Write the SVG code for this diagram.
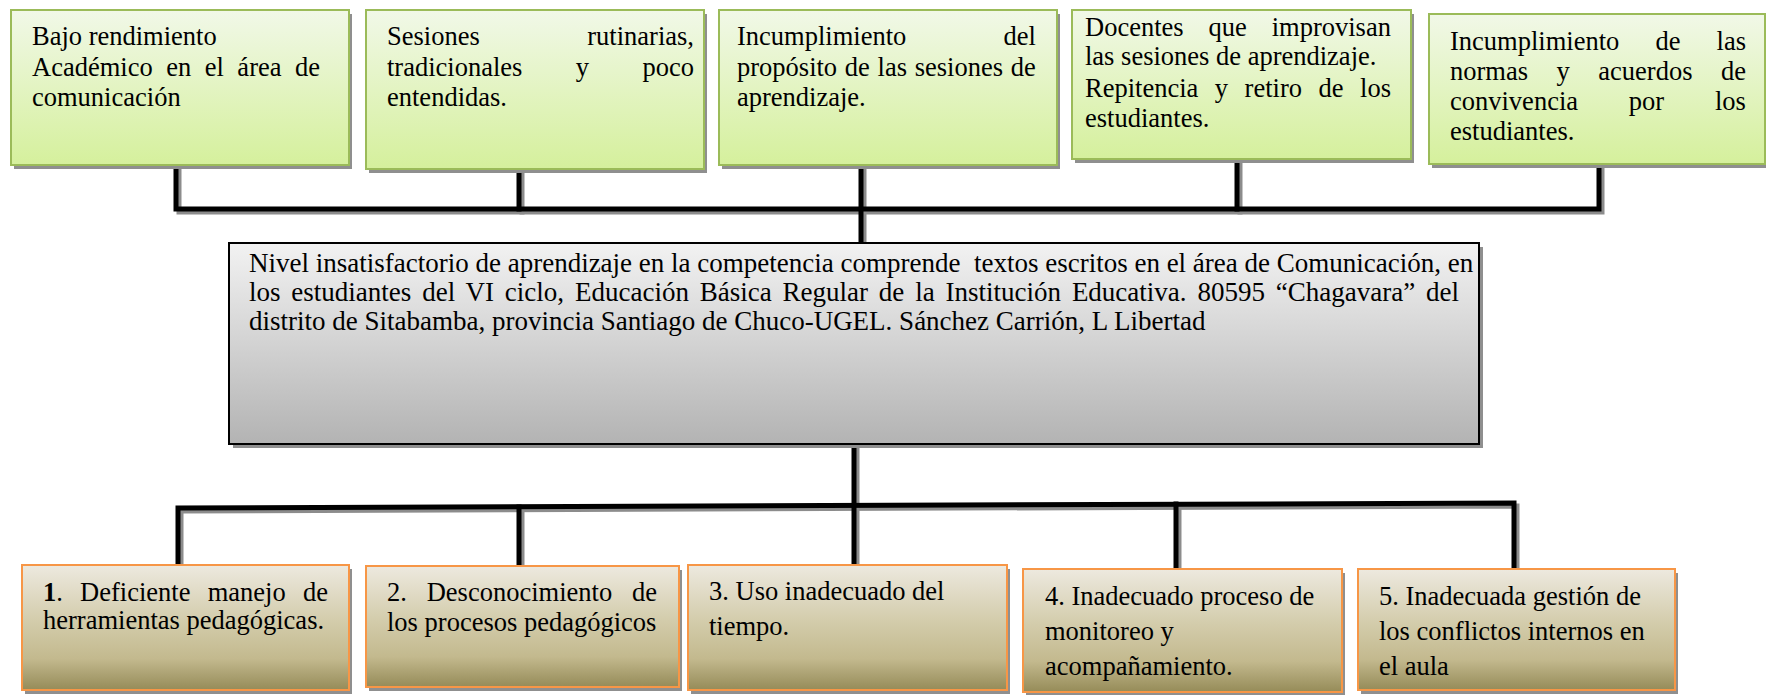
<svg xmlns="http://www.w3.org/2000/svg" width="1766" height="695" viewBox="0 0 1766 695">
<style>
.t{font-family:"Liberation Serif","Times New Roman",serif;font-size:26.5px;fill:#000}
.tc{font-size:27px}
.top{fill:url(#gTop);stroke:#9bbb59;stroke-width:2}
.ctr{fill:url(#gCtr);stroke:#000;stroke-width:2}
.bot{fill:url(#gBot);stroke:#f79646;stroke-width:2}
.sh{fill:#8f8f8f}
.ln{fill:none;stroke:#000;stroke-width:5;stroke-linejoin:miter;stroke-linecap:square}
.lns{fill:none;stroke:#8c8c8c;stroke-width:5;stroke-linejoin:miter;stroke-linecap:square}
</style>
<defs>
<linearGradient id="gTop" x1="0" y1="0" x2="0" y2="1">
<stop offset="0" stop-color="#f1f8e8"/>
<stop offset="1" stop-color="#d5f09c"/>
</linearGradient>
<linearGradient id="gCtr" x1="0" y1="0" x2="0" y2="1">
<stop offset="0" stop-color="#f2f2f2"/>
<stop offset="1" stop-color="#b3b3b3"/>
</linearGradient>
<linearGradient id="gBot" x1="0" y1="0" x2="0" y2="1">
<stop offset="0" stop-color="#ede9df"/>
<stop offset="0.45" stop-color="#d3ccab"/>
<stop offset="0.75" stop-color="#c3b98e"/>
<stop offset="1" stop-color="#958b58"/>
</linearGradient>
</defs>

<g id="connectors">
<g transform="translate(3,3)">
<path class="lns" d="M176 166 V209 H1599 V165"/>
<path class="lns" d="M519 170 V209"/>
<path class="lns" d="M861 166 V242"/>
<path class="lns" d="M1237 160 V209"/>
<path class="lns" d="M178 564 V508 L1514 503 V568"/>
<path class="lns" d="M519 565 V507"/>
<path class="lns" d="M854 445 V564"/>
<path class="lns" d="M1176 568 V504"/>
</g>
<path class="ln" d="M176 166 V209 H1599 V165"/>
<path class="ln" d="M519 170 V209"/>
<path class="ln" d="M861 166 V242"/>
<path class="ln" d="M1237 160 V209"/>
<path class="ln" d="M178 564 V508 L1514 503 V568"/>
<path class="ln" d="M519 565 V507"/>
<path class="ln" d="M854 445 V564"/>
<path class="ln" d="M1176 568 V504"/>
</g>

<g id="effect1">
<rect class="sh" x="14" y="14" width="338" height="155"/>
<rect class="top" x="11" y="10" width="338" height="155"/>
<text class="t" x="32" y="45">Bajo rendimiento</text>
<text class="t" x="32" y="76" style="word-spacing:6.9px">Académico en el área de</text>
<text class="t" x="32" y="106">comunicación</text>
</g>

<g id="effect2">
<rect class="sh" x="369" y="14" width="338" height="159"/>
<rect class="top" x="366" y="10" width="338" height="159"/>
<text class="t" x="387" y="45" style="word-spacing:100.9px">Sesiones rutinarias,</text>
<text class="t" x="387" y="76" style="word-spacing:46.8px">tradicionales y poco</text>
<text class="t" x="387" y="106">entendidas.</text>
</g>

<g id="effect3">
<rect class="sh" x="722" y="14" width="338" height="155"/>
<rect class="top" x="719" y="10" width="338" height="155"/>
<text class="t" x="737" y="45" style="word-spacing:90.7px">Incumplimiento del</text>
<text class="t" x="737" y="76" style="word-spacing:1.1px">propósito de las sesiones de</text>
<text class="t" x="737" y="106">aprendizaje.</text>
</g>

<g id="effect4">
<rect class="sh" x="1075" y="14" width="339" height="149"/>
<rect class="top" x="1072" y="10" width="339" height="149"/>
<text class="t" x="1085" y="36" style="word-spacing:18.3px">Docentes que improvisan</text>
<text class="t" x="1085" y="65">las sesiones de aprendizaje.</text>
<text class="t" x="1085" y="97" style="word-spacing:9.9px">Repitencia y retiro de los</text>
<text class="t" x="1085" y="127">estudiantes.</text>
</g>

<g id="effect5">
<rect class="sh" x="1432" y="18" width="336" height="150"/>
<rect class="top" x="1429" y="14" width="336" height="150"/>
<text class="t" x="1450" y="50" style="word-spacing:29.5px">Incumplimiento de las</text>
<text class="t" x="1450" y="80" style="word-spacing:21.9px">normas y acuerdos de</text>
<text class="t" x="1450" y="110" style="word-spacing:44.2px">convivencia por los</text>
<text class="t" x="1450" y="140">estudiantes.</text>
</g>

<g id="problem">
<rect class="sh" x="233" y="247" width="1250" height="201"/>
<rect class="ctr" x="229" y="243" width="1250" height="201"/>
<text class="t tc" x="249" y="272" xml:space="preserve">Nivel insatisfactorio de aprendizaje en la competencia comprende  textos escritos en el área de Comunicación, en</text>
<text class="t tc" x="249" y="301" style="word-spacing:4.1px">los estudiantes del VI ciclo, Educación Básica Regular de la Institución Educativa. 80595 “Chagavara” del</text>
<text class="t tc" x="249" y="330">distrito de Sitabamba, provincia Santiago de Chuco-UGEL. Sánchez Carrión, L Libertad</text>
</g>

<g id="cause1">
<rect class="sh" x="25" y="569" width="327" height="125"/>
<rect class="bot" x="22" y="565" width="327" height="125"/>
<text class="t" x="43" y="601" style="word-spacing:10.6px"><tspan font-weight="bold">1</tspan>. Deficiente manejo de</text>
<text class="t" x="43" y="629">herramientas pedagógicas.</text>
</g>

<g id="cause2">
<rect class="sh" x="369" y="570" width="313" height="121"/>
<rect class="bot" x="366" y="566" width="313" height="121"/>
<text class="t" x="387" y="601" style="word-spacing:13.2px">2. Desconocimiento de</text>
<text class="t" x="387" y="631">los procesos pedagógicos</text>
</g>

<g id="cause3">
<rect class="sh" x="691" y="569" width="319" height="125"/>
<rect class="bot" x="688" y="565" width="319" height="125"/>
<text class="t" x="709" y="600">3. Uso inadecuado del</text>
<text class="t" x="709" y="635">tiempo.</text>
</g>

<g id="cause4">
<rect class="sh" x="1026" y="573" width="319" height="123"/>
<rect class="bot" x="1023" y="569" width="319" height="123"/>
<text class="t" x="1045" y="605">4. Inadecuado proceso de</text>
<text class="t" x="1045" y="640">monitoreo y</text>
<text class="t" x="1045" y="675">acompañamiento.</text>
</g>

<g id="cause5">
<rect class="sh" x="1361" y="573" width="317" height="121"/>
<rect class="bot" x="1358" y="569" width="317" height="121"/>
<text class="t" x="1379" y="605">5. Inadecuada gestión de</text>
<text class="t" x="1379" y="640">los conflictos internos en</text>
<text class="t" x="1379" y="675">el aula</text>
</g>
</svg>
